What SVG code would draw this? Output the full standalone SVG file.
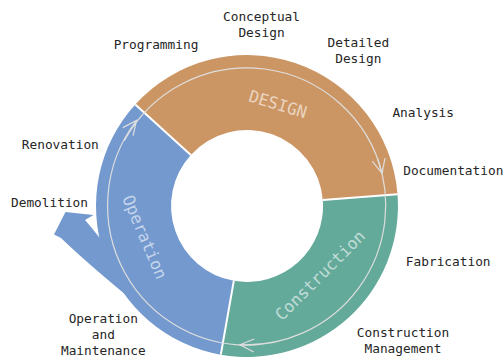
<svg xmlns="http://www.w3.org/2000/svg" width="504" height="360" viewBox="0 0 504 360">
<style>
.lbl{font-family:"DejaVu Sans Mono","Liberation Mono",monospace;font-size:12.8px;fill:#262626;text-anchor:middle}
.seg{font-family:"DejaVu Sans Mono","Liberation Mono",monospace;font-size:16.5px;fill:#ffffff;fill-opacity:0.6;text-anchor:middle}
.flow{fill:none;stroke:#dedede;stroke-width:1.2}
.sep{stroke:#ffffff;stroke-width:2}
</style>
<defs>
<marker id="chev" markerUnits="userSpaceOnUse" markerWidth="20" markerHeight="20" viewBox="-16 -10 20 20" refX="0" refY="0" orient="auto">
<path d="M-14,-6.5 L0,0 L-14,6.5" fill="none" stroke="#dedede" stroke-width="1.2"/>
</marker>
</defs>
<rect width="504" height="360" fill="#ffffff"/>
<g id="demolition-arrow">
<path d="M126,295 Q86,262 61,238 L54,234.5 L65.5,212 L93.5,215 L85,220 Q92,228 99,237 L160,260 Z" fill="#7399cf"/>
</g>
<g id="design">
<path d="M135.3,104.4 A151,151 0 0 1 397.5,194.2 L322.8,200 A76,76 0 0 0 190.8,154.9 Z" fill="#cc9664"/>
<text class="seg" transform="translate(278,104) rotate(17)" y="6">DESIGN</text>
</g>
<g id="construction">
<path d="M397.5,194.2 A151,151 0 0 1 220.8,354.7 L233.8,280.8 A76,76 0 0 0 322.8,200 Z" fill="#64aa9b"/>
<text class="seg" transform="translate(320,275) rotate(-45)" y="6">Construction</text>
</g>
<g id="operation">
<path d="M220.8,354.7 A151,151 0 0 1 135.3,104.4 L190.8,154.9 A76,76 0 0 0 233.8,280.8 Z" fill="#7399cf"/>
<text class="seg" transform="translate(145,237) rotate(67)" y="6">Operation</text>
</g>
<g id="connectors">
<line class="sep" x1="135.3" y1="104.4" x2="190.8" y2="154.9"/>
<line class="sep" x1="397.5" y1="194.2" x2="322.8" y2="200"/>
<line class="sep" x1="220.8" y1="354.7" x2="233.8" y2="280.8"/>
<path class="flow" d="M124.3,140.7 A139.5,139.5 0 0 1 382.1,173.3" marker-end="url(#chev)"/>
<path class="flow" d="M377.6,158.5 A139.5,139.5 0 0 1 240,344.8" marker-end="url(#chev)"/>
<path class="flow" d="M259.1,344.5 A139.5,139.5 0 0 1 136.5,120.5" marker-end="url(#chev)"/>
</g>
<g id="labels">
<text class="lbl" x="261.5" y="20.7">Conceptual</text>
<text class="lbl" x="261.5" y="36.7">Design</text>
<text class="lbl" x="156" y="49.3">Programming</text>
<text class="lbl" x="358.3" y="47.3">Detailed</text>
<text class="lbl" x="358.3" y="63.3">Design</text>
<text class="lbl" x="423.2" y="117.3">Analysis</text>
<text class="lbl" x="453.3" y="175">Documentation</text>
<text class="lbl" x="448.2" y="266">Fabrication</text>
<text class="lbl" x="403" y="337.3">Construction</text>
<text class="lbl" x="403" y="352.7">Management</text>
<text class="lbl" x="103.3" y="323.3">Operation</text>
<text class="lbl" x="103.3" y="339.3">and</text>
<text class="lbl" x="103.3" y="355.3">Maintenance</text>
<text class="lbl" x="60.3" y="149">Renovation</text>
<text class="lbl" x="49.5" y="206.7">Demolition</text>
</g>
</svg>
